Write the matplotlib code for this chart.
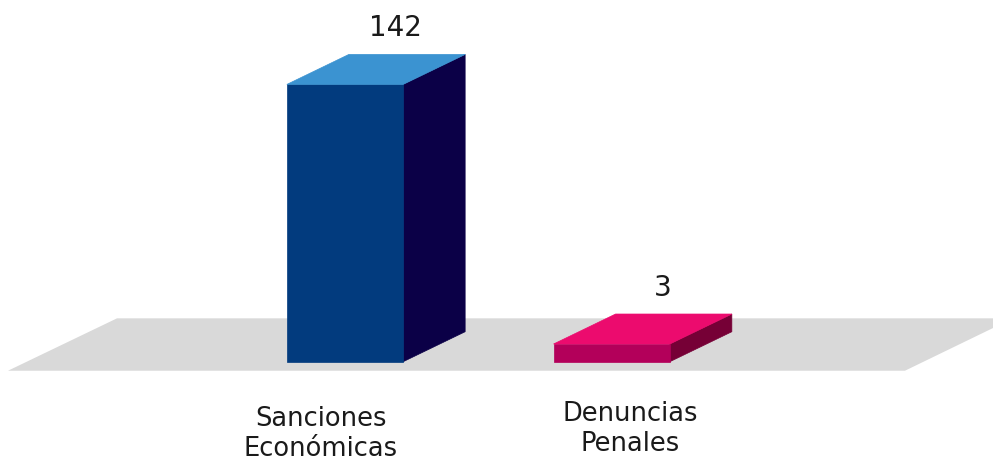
import matplotlib.pyplot as plt
from matplotlib.patches import Polygon

categories = ['Sanciones\nEconómicas', 'Denuncias\nPenales']
values = [142, 3]
front_colors = ['#023B7E', '#B3005A']
top_colors = ['#3B93D1', '#EC0B6E']
side_colors = ['#0B0047', '#760036']

fig = plt.figure(figsize=(9.93, 4.57), dpi=100)
ax = fig.add_axes([0, 0, 1, 1])
ax.set_xlim(-1.2936, 2.4297)
ax.set_ylim(-57.5, 187.2)
ax.axis('off')

# fake 3d geometry (x in category units, y in value units)
base = -6.48      # bars start a little below zero
half_w = 0.218
dx, dy = 0.2325, 16.06

# grey floor
floor = Polygon([(-1.2636, -11.3), (2.0997, -11.3), (2.5047, 16.75), (-0.8549, 16.75)],
                closed=True, fc='#D9D9D9', ec='none', zorder=1)
ax.add_patch(floor)

for i, v in enumerate(values):
    x0, x1 = i - half_w, i + half_w
    front = [(x0, base), (x1, base), (x1, v), (x0, v)]
    side = [(x1, base), (x1 + dx, base + dy), (x1 + dx, v + dy), (x1, v)]
    top = [(x0, v), (x1, v), (x1 + dx, v + dy), (x0 + dx, v + dy)]
    ax.add_patch(Polygon(side, closed=True, fc=side_colors[i], ec=side_colors[i], lw=0.5, zorder=2))
    ax.add_patch(Polygon(front, closed=True, fc=front_colors[i], ec=front_colors[i], lw=0.5, zorder=3))
    ax.add_patch(Polygon(top, closed=True, fc=top_colors[i], ec=top_colors[i], lw=0.5, zorder=3))
    ax.annotate(str(v), (i + 0.19, v + dy), xytext=(0, 19), textcoords='offset points',
                ha='center', va='center', fontsize=20, color='#1a1a1a')

label_shift = [(-0.09, -10.2), (0.07, -7.7)]
for i, name in enumerate(categories):
    sx, sy = label_shift[i]
    ax.text(i + sx, sy - 20, name, ha='center', va='top', fontsize=18.5,
            color='#1a1a1a', linespacing=1.2)

fig.savefig('out.png', dpi=100)
